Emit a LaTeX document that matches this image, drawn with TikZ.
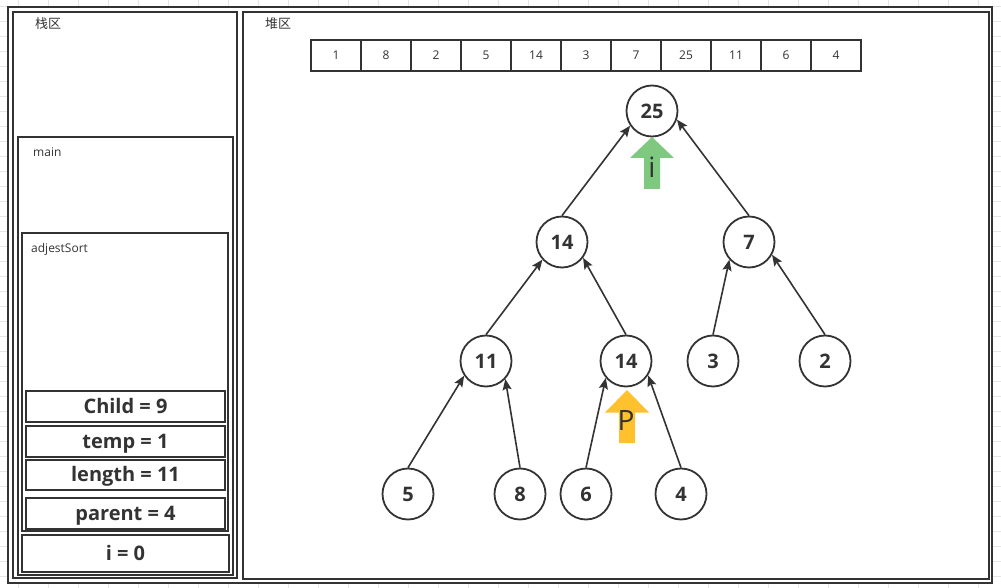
\documentclass[tikz,border=0pt]{standalone}
\usepackage{fontspec}
\setmainfont{Open Sans}
\newfontfamily\cjk{Noto Sans CJK SC}
\usetikzlibrary{arrows.meta}
\definecolor{ink}{HTML}{333333}
\definecolor{gridc}{HTML}{E6E6E6}
\definecolor{greenarr}{HTML}{7FC87F}
\definecolor{yellowarr}{HTML}{FFC12E}
\tikzset{
  frame/.style={draw=ink, line width=2.4pt, fill=white, inner sep=0pt, outer sep=0pt},
  varbox/.style={draw=ink, line width=2pt, fill=white, inner sep=0pt, outer sep=0pt,
     font=\bfseries\fontsize{20}{22}\selectfont, text=ink, text height=14pt, text depth=0pt},
  cell/.style={draw=ink, line width=1.6pt, fill=white, minimum width=50pt, minimum height=31pt,
     inner sep=0pt, outer sep=0pt, font=\fontsize{12}{14}\selectfont, text=ink},
  tnode/.style={circle, draw=ink, line width=1.8pt, fill=white, minimum size=51pt, inner sep=0pt,
     font=\bfseries\fontsize{20}{22}\selectfont, text=ink},
  conn/.style={draw=ink, line width=1.6pt, -{Stealth[length=11pt,width=9pt,inset=2pt]}},
  lbl/.style={inner sep=0pt, font=\fontsize{12}{14}\selectfont, text=ink, anchor=west},
  arrlbl/.style={inner sep=0pt, font=\fontsize{28}{30}\selectfont, text=ink}
}
\begin{document}
\begin{tikzpicture}[x=1pt,y=-1pt]
\useasboundingbox (0,0) rectangle (1001,588);
% background grid
\foreach \x in {18,48,...,998} \draw[gridc, line width=0.8pt] (\x,0) -- (\x,588);
\foreach \y in {6.7,21.7,...,588} \draw[gridc, line width=0.8pt] (0,\y) -- (1001,\y);
% frames
\node[frame, minimum width=984pt, minimum height=576pt] (outer) at (500,295) {};
\node[frame, minimum width=224pt, minimum height=566pt] (stack) at (125,295) {};
\node[frame, minimum width=746pt, minimum height=567pt] (heap) at (616,295.5) {};
\node[frame, line width=2pt, minimum width=215pt, minimum height=438pt] (main) at (125.5,356) {};
\node[frame, line width=2pt, minimum width=206pt, minimum height=298pt] (adj) at (125,382) {};
% labels
\node[lbl, font=\cjk\fontsize{13}{15}\selectfont] (stacklbl) at (35,24) {栈区};
\node[lbl, font=\cjk\fontsize{13}{15}\selectfont] (heaplbl) at (265,24) {堆区};
\node[lbl] (mainlbl) at (33,152) {main};
\node[lbl] (adjlbl) at (31,249) {adjestSort};
% variable boxes
\node[varbox, minimum width=199pt, minimum height=31pt] (vchild) at (125.5,406.5) {Child = 9};
\node[varbox, minimum width=199pt, minimum height=31pt] (vtemp) at (125.5,441.5) {temp = 1};
\node[varbox, minimum width=199pt, minimum height=30.5pt] (vlen) at (125.5,474.75) {length = 11};
\node[varbox, minimum width=199pt, minimum height=31pt] (vpar) at (125.5,513) {parent = 4};
\node[varbox, minimum width=207pt, minimum height=37pt] (vi) at (125.5,553.5) {i = 0};
% array
\foreach \v [count=\k from 0] in {1,8,2,5,14,3,7,25,11,6,4}
  \node[cell] (a\k) at ({336+50*\k},55.5) {\v};
% tree
\node[tnode] (n25) at (652,111) {25};
\node[tnode] (n14a) at (562,242) {14};
\node[tnode] (n7) at (749,242) {7};
\node[tnode] (n11) at (486,361) {11};
\node[tnode] (n14b) at (626,361) {14};
\node[tnode] (n3) at (713,361) {3};
\node[tnode] (n2) at (825,361) {2};
\node[tnode] (n5) at (408,494) {5};
\node[tnode] (n8) at (520,494) {8};
\node[tnode] (n6) at (586,494) {6};
\node[tnode] (n4) at (681,494) {4};
% connectors
\draw[conn] (n14a.north) -- (n25.214);
\draw[conn] (n7.north) -- (n25.-19);
\draw[conn] (n11.north) -- (n14a.222);
\draw[conn] (n14b.north) -- (n14a.-37);
\draw[conn] (n3.north) -- (n7.222);
\draw[conn] (n2.north) -- (n7.-29);
\draw[conn] (n5.north) -- (n11.214);
\draw[conn] (n8.north) -- (n11.-43);
\draw[conn] (n6.north) -- (n14b.220);
\draw[conn] (n4.north) -- (n14b.-33);
% pointer arrows
\fill[greenarr] (652,137) -- (674,158) -- (660,158) -- (660,189) -- (644,189) -- (644,158) -- (630,158) -- cycle;
\node[arrlbl] (ilbl) at (652,167) {i};
\fill[yellowarr] (627,390) -- (649,412.5) -- (635,412.5) -- (635,443) -- (619,443) -- (619,412.5) -- (605,412.5) -- cycle;
\node[arrlbl] (plbl) at (626,421) {P};
\end{tikzpicture}
\end{document}
